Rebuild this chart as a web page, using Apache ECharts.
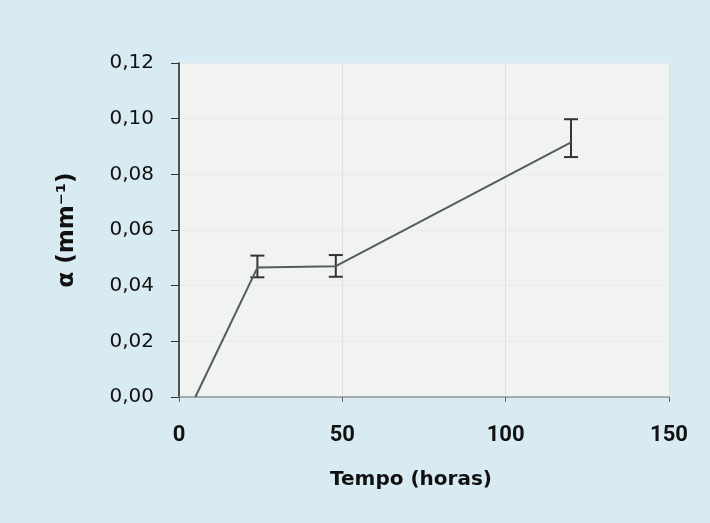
<!DOCTYPE html>
<html>
<head>
<meta charset="utf-8">
<script src="https://cdn.jsdelivr.net/npm/echarts@6/dist/echarts.min.js"></script>
<style>
  html, body { margin: 0; padding: 0; background: #d9ebf2; }
  #chart { width: 710px; height: 523px; }
</style>
</head>
<body>
<div id="chart"></div>
<script>
// tempo (horas) and alpha values
const tempo = [5, 24, 48, 120]
const alpha = [0.000, 0.0465, 0.047, 0.0915]
const errLow = [null, 0.0430, 0.0432, 0.0862]
const errHigh = [null, 0.0508, 0.0510, 0.0998]
const xTicks = [0, 50, 100, 150]

const lineData = tempo.map((t, i) => [t, alpha[i]])
const errData = []
tempo.forEach((t, i) => {
  if (errLow[i] !== null) errData.push([t, errLow[i], errHigh[i]])
})

const chart = echarts.init(document.getElementById('chart'))
const option = {
  backgroundColor: '#d9ebf2',
  animation: false,
  grid: {
    left: 179,
    right: 41,
    top: 63,
    bottom: 126,
    show: true,
    backgroundColor: '#f1f2f2',
    borderWidth: 0
  },
  xAxis: {
    type: 'value',
    min: 0,
    max: 150,
    interval: 50,
    name: 'Tempo (horas)',
    nameLocation: 'middle',
    nameGap: 73,
    nameTextStyle: {
      fontFamily: 'DejaVu Sans', fontWeight: 'bold', fontSize: 20, color: '#111',
      padding: [0, 26, 0, 0]
    },
    axisLine: { show: true, onZero: false, lineStyle: { color: '#8f9599', width: 1.5 } },
    axisTick: { show: true, inside: false, length: 5, lineStyle: { color: '#666' } },
    axisLabel: {
      margin: 27,
      fontFamily: 'Roboto',
      fontWeight: 'bold',
      fontSize: 22,
      color: '#111',
      formatter: v => xTicks.includes(v) ? String(v) : ''
    },
    splitLine: { show: true, lineStyle: { color: '#e0e0e0', width: 1 } }
  },
  yAxis: {
    type: 'value',
    min: 0,
    max: 0.12,
    interval: 0.02,
    name: 'α (mm⁻¹)',
    nameLocation: 'middle',
    nameGap: 100,
    nameRotate: 90,
    nameTextStyle: { fontFamily: 'DejaVu Sans', fontWeight: 'bold', fontSize: 23, color: '#111' },
    axisLine: { show: true, lineStyle: { color: '#222', width: 1.5 } },
    axisTick: { show: true, inside: false, length: 8, lineStyle: { color: '#333' } },
    axisLabel: {
      margin: 25,
      fontFamily: 'DejaVu Sans',
      fontSize: 20,
      color: '#111',
      formatter: v => v.toFixed(2).replace('.', ',')
    },
    splitLine: { show: true, lineStyle: { color: '#e2e2e2', type: 'dotted', width: 1 } }
  },
  series: [
    {
      type: 'line',
      data: lineData,
      symbol: 'none',
      lineStyle: { color: '#555a60', width: 2 }
    },
    {
      type: 'custom',
      data: errData,
      renderItem: (params, api) => {
        const x = api.value(0)
        const lo = api.coord([x, api.value(1)])
        const hi = api.coord([x, api.value(2)])
        const w = 7
        const style = { stroke: '#333', lineWidth: 2 }
        return {
          type: 'group',
          children: [
            { type: 'line', shape: { x1: lo[0], y1: lo[1], x2: hi[0], y2: hi[1] }, style },
            { type: 'line', shape: { x1: lo[0] - w, y1: lo[1], x2: lo[0] + w, y2: lo[1] }, style },
            { type: 'line', shape: { x1: hi[0] - w, y1: hi[1], x2: hi[0] + w, y2: hi[1] }, style }
          ]
        }
      }
    }
  ]
}
chart.setOption(option)
</script>
</body>
</html>
